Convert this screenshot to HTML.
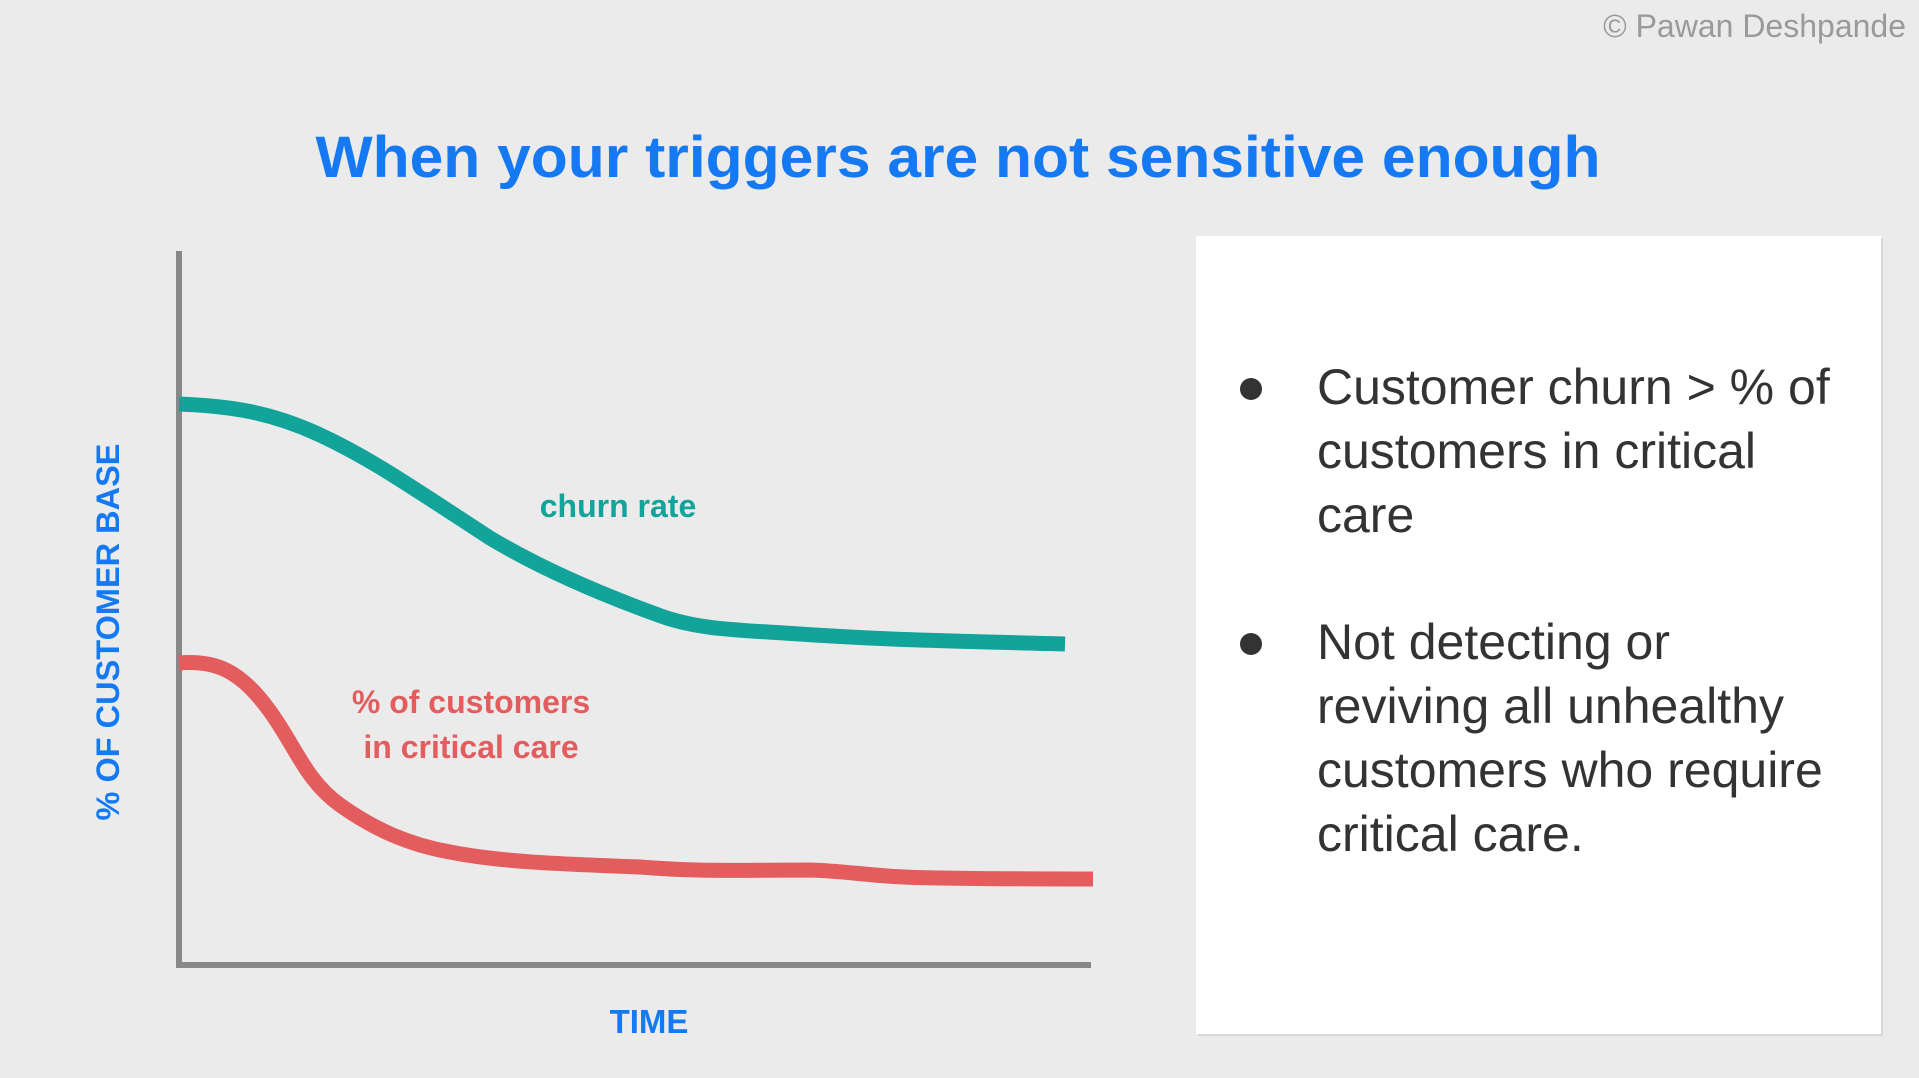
<!DOCTYPE html>
<html><head><meta charset="utf-8"><style>
html,body{margin:0;padding:0;background:#ebebeb;}
svg{display:block;}
text{font-family:"Liberation Sans",sans-serif;}
</style></head><body>
<svg width="1919" height="1078" viewBox="0 0 1919 1078" xmlns="http://www.w3.org/2000/svg">
<rect width="1919" height="1078" fill="#ebebeb"/>
<text x="1906" y="37" text-anchor="end" font-size="32" fill="#9a9a9a">© Pawan Deshpande</text>
<text x="958" y="177" text-anchor="middle" font-size="58" font-weight="bold" fill="#1479f2" textLength="1285" lengthAdjust="spacingAndGlyphs">When your triggers are not sensitive enough</text>
<!-- axes -->
<line x1="179" y1="251" x2="179" y2="967" stroke="#888" stroke-width="6"/>
<line x1="176" y1="965" x2="1091" y2="965" stroke="#888" stroke-width="6"/>
<!-- teal curve -->
<path d="M179,404 C230,406 270,412 318,434 C370,458 410,486 490,538 C540,568 600,594 661,616 C700,630 740,630 800,634 C900,641 1000,642 1065,644" fill="none" stroke="#12a39a" stroke-width="15"/>
<!-- red curve -->
<path d="M179,663 C215,660 240,670 269,710 C295,745 305,780 340,805 C375,830 410,845 450,852 C500,862 560,864 640,867 C700,872 740,870 810,870 C850,871 880,878 940,878 C1000,879 1050,879 1093,879" fill="none" stroke="#e35d5f" stroke-width="15"/>
<text x="618" y="517" text-anchor="middle" font-size="32" font-weight="bold" fill="#12a39a">churn rate</text>
<text x="471" y="713" text-anchor="middle" font-size="32" font-weight="bold" fill="#e35d5f">% of customers</text>
<text x="471" y="758" text-anchor="middle" font-size="32" font-weight="bold" fill="#e35d5f">in critical care</text>
<text transform="translate(119,632) rotate(-90)" text-anchor="middle" font-size="32" font-weight="bold" fill="#1479f2" textLength="377" lengthAdjust="spacingAndGlyphs">% OF CUSTOMER BASE</text>
<text x="649" y="1033" text-anchor="middle" font-size="33" font-weight="bold" fill="#1479f2">TIME</text>
<!-- box -->
<rect x="1198" y="238" width="685" height="798" fill="#d8d8d8"/>
<rect x="1196" y="236" width="685" height="798" fill="#ffffff"/>
<circle cx="1251" cy="389" r="11" fill="#333"/>
<circle cx="1251" cy="644" r="11" fill="#333"/>
<g font-size="50" fill="#333">
<text x="1317" y="404">Customer churn &gt; % of</text>
<text x="1317" y="468">customers in critical</text>
<text x="1317" y="532">care</text>
<text x="1317" y="659">Not detecting or</text>
<text x="1317" y="723">reviving all unhealthy</text>
<text x="1317" y="787">customers who require</text>
<text x="1317" y="851">critical care.</text>
</g>
</svg>
</body></html>
